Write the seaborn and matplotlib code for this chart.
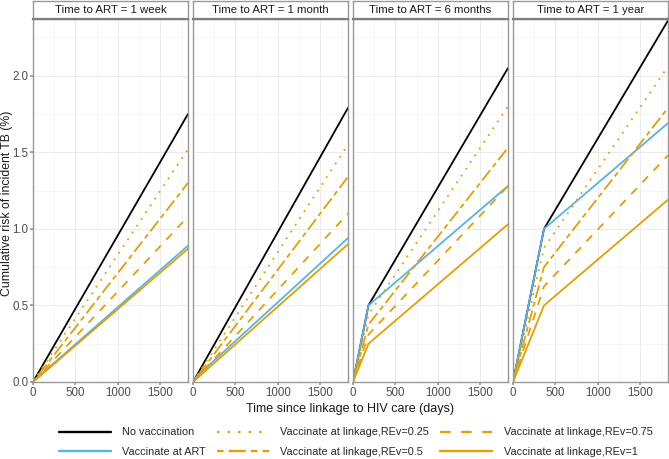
"""
Cumulative risk of incident TB by time to ART and vaccination strategy.
"""

import pandas as pd
import matplotlib.pyplot as plt
import seaborn as sns
from matplotlib.lines import Line2D

# --- data ---
panels = ['1 week', '1 month', '6 months', '1 year']
art_days = [7, 30, 182, 365]
end_day = 1825

scenarios = ['No vaccination', 'Vaccinate at ART',
             'Vaccinate at linkage,REv=0.25', 'Vaccinate at linkage,REv=0.5',
             'Vaccinate at linkage,REv=0.75', 'Vaccinate at linkage,REv=1']

# risk (%) at time of ART start, per panel, in scenario order
risk_at_art = [
    [0.007, 0.007, 0.006, 0.005, 0.004, 0.003],
    [0.029, 0.029, 0.026, 0.022, 0.018, 0.015],
    [0.50, 0.50, 0.44, 0.375, 0.31, 0.25],
    [1.00, 1.00, 0.875, 0.75, 0.625, 0.50],
]
# risk (%) at end of follow-up (day 1825)
risk_at_end = [
    [1.75, 0.89, 1.52, 1.30, 1.08, 0.87],
    [1.79, 0.94, 1.55, 1.34, 1.10, 0.90],
    [2.05, 1.28, 1.80, 1.53, 1.28, 1.03],
    [2.36, 1.69, 2.06, 1.79, 1.48, 1.19],
]

black = '#000000'
blue = '#56B4E9'
orange = '#E69F00'
palette = {scenarios[0]: black, scenarios[1]: blue, scenarios[2]: orange,
           scenarios[3]: orange, scenarios[4]: orange, scenarios[5]: orange}
dashes = {scenarios[0]: '', scenarios[1]: '', scenarios[2]: (1, 3.5),
          scenarios[3]: (2.8, 2.2, 7.2, 2.2), scenarios[4]: (4.5, 4.5), scenarios[5]: ''}

rows = []
for p, t_art, mids, ends in zip(panels, art_days, risk_at_art, risk_at_end):
    for s, m, e in zip(scenarios, mids, ends):
        rows.append((p, s, 0, 0.0))
        rows.append((p, s, t_art, m))
        rows.append((p, s, end_day, e))
df = pd.DataFrame(rows, columns=['Panel', 'Scenario', 'Day', 'Risk'])

sns.set_theme(style='white')
plt.rcParams['font.family'] = ['Liberation Sans', 'DejaVu Sans']

fig = plt.figure(figsize=(6.69, 4.59), dpi=100)
W, H = 669, 459
lefts = [33, 193, 353, 513]
pw = 155
top_px, bot_px, strip_px = 19, 382, 18
border = '#999999'
lw = 1.3

ax0 = None
for i, p in enumerate(panels):
    ax = fig.add_axes([lefts[i] / W, 1 - bot_px / H, pw / W, (bot_px - top_px) / H],
                      sharey=ax0)
    if ax0 is None:
        ax0 = ax
    sns.lineplot(data=df[df['Panel'] == p], x='Day', y='Risk', hue='Scenario',
                 style='Scenario', hue_order=scenarios, style_order=scenarios,
                 palette=palette, dashes=dashes, linewidth=lw, legend=False,
                 ax=ax)
    ax.set_xlim(0, end_day)
    ax.set_ylim(0, 2.37)
    ax.set_xticks([0, 500, 1000, 1500])
    ax.set_xticks([250, 750, 1250, 1750], minor=True)
    ax.set_yticks([0, 0.5, 1.0, 1.5, 2.0])
    ax.set_yticks([0.25, 0.75, 1.25, 1.75, 2.25], minor=True)
    ax.grid(True, which='major', color='#EBEBEB', linewidth=0.7)
    ax.grid(True, which='minor', color='#F3F3F3', linewidth=0.5)
    ax.set_axisbelow(True)
    ax.tick_params(which='major', length=2.2, color=border, labelsize=8.3,
                   labelcolor='#4D4D4D', pad=1.2, bottom=True, left=True)
    ax.tick_params(which='minor', length=0)
    if i > 0:
        ax.tick_params(axis='y', labelleft=False, left=False)
    ax.set_xlabel('')
    ax.set_ylabel('')
    for sp in ax.spines.values():
        sp.set_color(border)
        sp.set_linewidth(1.0)

    # facet strip
    sax = fig.add_axes([lefts[i] / W, 1 - top_px / H, pw / W, strip_px / H])
    sax.set_xticks([])
    sax.set_yticks([])
    sax.set_facecolor('white')
    for sp in sax.spines.values():
        sp.set_color(border)
        sp.set_linewidth(1.0)
    sax.spines['bottom'].set_color('#7F7F7F')
    sax.spines['bottom'].set_linewidth(1.6)
    sax.text(0.5, 0.5, f'Time to ART = {p}', ha='center', va='center',
             fontsize=8.2, color='#1A1A1A', transform=sax.transAxes)

fig.text(350 / W, 1 - 409 / H, 'Time since linkage to HIV care (days)',
         ha='center', va='center', fontsize=9, color='#1A1A1A')
fig.text(7 / W, 1 - 203 / H, 'Cumulative risk of incident TB (%)',
         ha='center', va='center', rotation=90, fontsize=8.8, color='#1A1A1A')

handles = [Line2D([], [], color=palette[s], linewidth=lw * 1.3,
                  linestyle='-' if dashes[s] == '' else (0, dashes[s]))
           for s in scenarios]
fig.legend(handles, scenarios, loc='center', ncol=3, frameon=False,
           bbox_to_anchor=(355.5 / W, 1 - 442 / H), fontsize=7.8,
           handlelength=4.8, columnspacing=0.95, handletextpad=1.1,
           labelspacing=0.85)

fig.savefig('out.png', dpi=100)
